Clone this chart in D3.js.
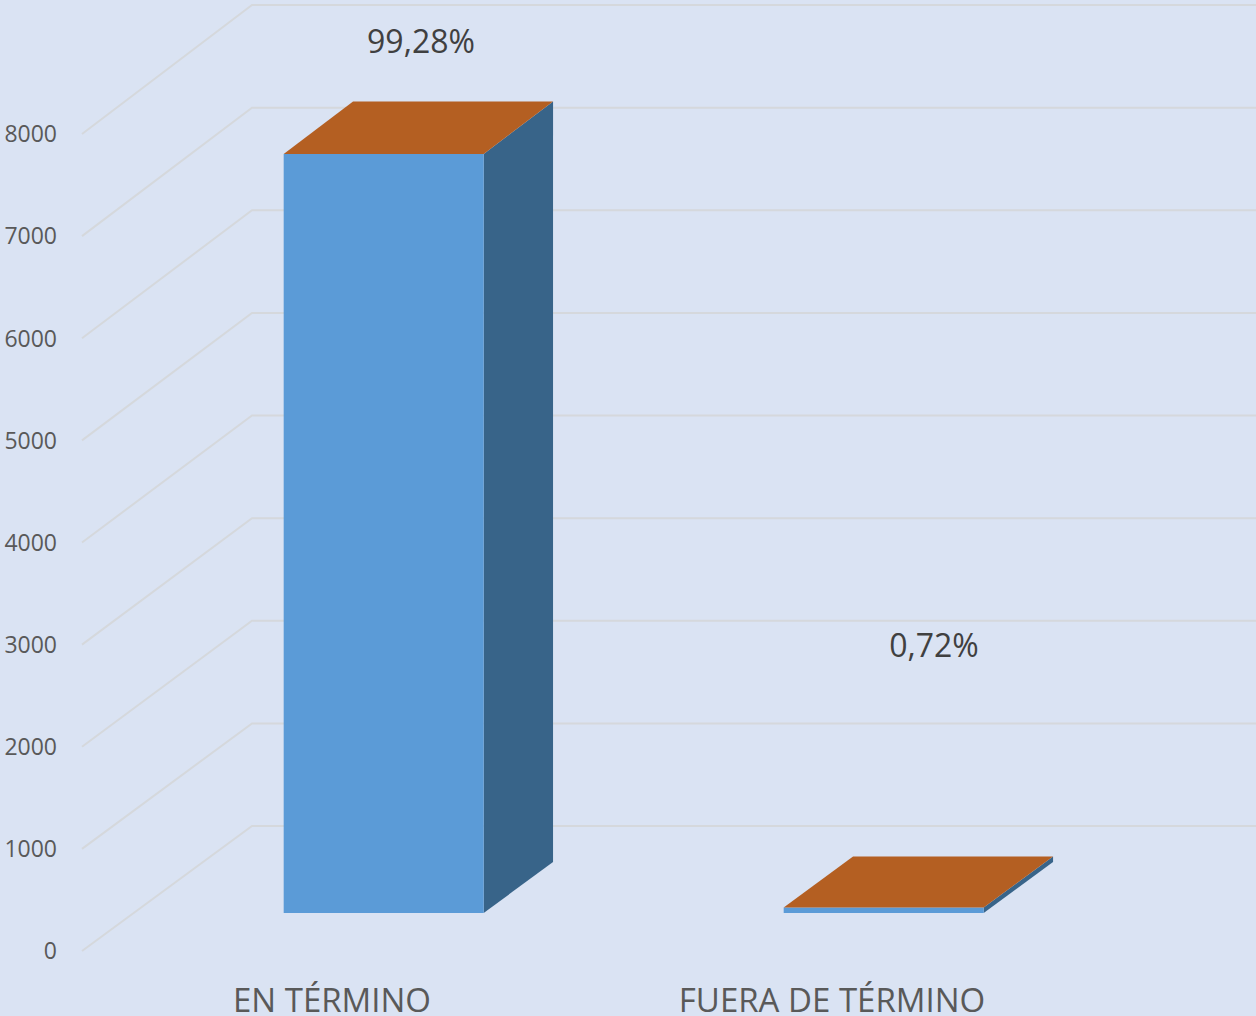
<!DOCTYPE html>
<html lang="es">
<head>
  <meta charset="UTF-8">
  <title>En término / Fuera de término</title>
  <script src="https://d3js.org/d3.v7.min.js"></script>
  <style>
    body { background: #dae3f3; margin: 0; }
    svg { display: block; }
    .grid { stroke: #d5d8dc; stroke-width: 2; fill: none; }
    .tick-label { font-family: "Open Sans", sans-serif; font-size: 23px; fill: #595959; }
    .cat-label { font-family: "Open Sans", sans-serif; font-size: 33px; fill: #595959; }
    .val-label { font-family: "Open Sans", sans-serif; font-size: 32px; fill: #404040; }
  </style>
</head>
<body>
  <svg width="1256" height="1016"></svg>

  <script>
    // data
    const categories = ["EN TÉRMINO", "FUERA DE TÉRMINO"];
    const values = [7422, 54];
    const percentLabels = ["99,28%", "0,72%"];
    const ticks = [0, 1000, 2000, 3000, 4000, 5000, 6000, 7000, 8000];

    const W = 1256, H = 1016;
    const svg = d3.select("svg");

    // front plane and back wall of the 3d box
    const yFront = d3.scaleLinear().domain([0, 8000]).range([951, 134]);
    const yBack = d3.scaleLinear().domain([0, 8000]).range([826, 5]);
    const depthX = 170;
    const x = d3.scaleBand().domain(categories).range([82, 1082])
      .paddingInner(0.6).paddingOuter(0.3);

    // project a point (front-plane x, value, depth 0..1)
    function P(px, v, t) {
      return [px + depthX * t, yFront(v) * (1 - t) + yBack(v) * t];
    }

    // gridlines: diagonal on the floor side + horizontal on back wall
    ticks.forEach(v => {
      const a = P(82, v, 0), b = P(82, v, 1);
      svg.append("polyline")
        .attr("class", "grid")
        .attr("points", [a, b, [W, b[1]]].map(p => p.join(",")).join(" "));
    });

    svg.selectAll(".tick-label")
      .data(ticks)
      .enter()
      .append("text")
      .attr("class", "tick-label")
      .attr("x", 57)
      .attr("y", d => yFront(d))
      .attr("dy", "0.36em")
      .attr("text-anchor", "end")
      .text(d => d);

    // bars
    const t0 = 0.304, t1 = 0.712;
    const poly = pts => pts.map(p => p.join(",")).join(" ");

    categories.forEach((c, i) => {
      const xl = x(c), xr = x(c) + x.bandwidth(), v = values[i];
      const g = svg.append("g");
      // right side
      g.append("polygon")
        .attr("fill", "#386489")
        .attr("points", poly([P(xr, 0, t0), P(xr, 0, t1), P(xr, v, t1), P(xr, v, t0)]));
      // front
      g.append("polygon")
        .attr("fill", "#5b9bd7")
        .attr("points", poly([P(xl, 0, t0), P(xr, 0, t0), P(xr, v, t0), P(xl, v, t0)]));
      // top
      g.append("polygon")
        .attr("fill", "#b45f22")
        .attr("points", poly([P(xl, v, t0), P(xr, v, t0), P(xr, v, t1), P(xl, v, t1)]));
    });

    // category labels
    svg.selectAll(".cat-label")
      .data(categories)
      .enter()
      .append("text")
      .attr("class", "cat-label")
      .attr("x", d => x(d) + x.bandwidth() / 2)
      .attr("y", 1012)
      .attr("text-anchor", "middle")
      .text(d => d);

    // value labels (Excel puts them a bit oddly in 3d)
    const labelPos = [[421, 53], [934, 657]];
    svg.selectAll(".val-label")
      .data(percentLabels)
      .enter()
      .append("text")
      .attr("class", "val-label")
      .attr("x", (d, i) => labelPos[i][0])
      .attr("y", (d, i) => labelPos[i][1])
      .attr("text-anchor", "middle")
      .text(d => d);
  </script>
</body>
</html>
